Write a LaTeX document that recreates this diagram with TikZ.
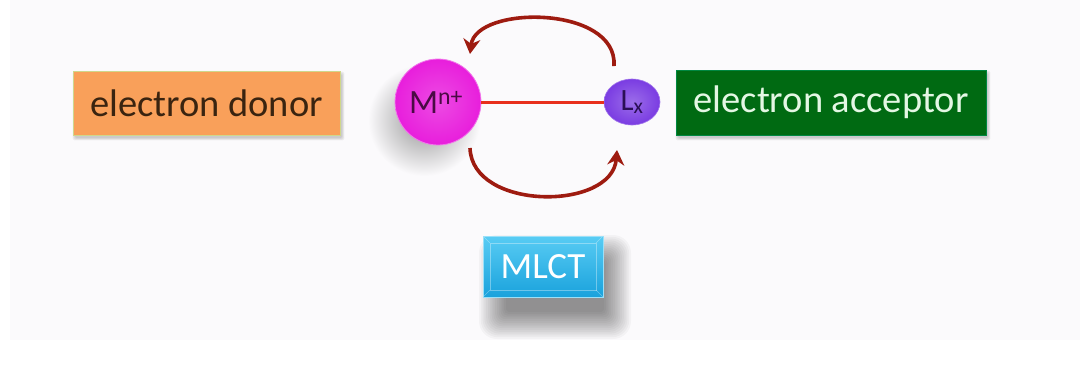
\documentclass[tikz,border=0pt]{standalone}
\usepackage{fontspec}
\setmainfont{Carlito}
\usetikzlibrary{arrows.meta,shapes.geometric}
\definecolor{pagebg}{HTML}{FBFAFC}
\definecolor{donorfill}{HTML}{F9A05A}
\definecolor{donortext}{HTML}{3A2410}
\definecolor{accfill}{HTML}{006A12}
\definecolor{acctext}{HTML}{E4F7E4}
\definecolor{mfill}{HTML}{E81EDC}
\definecolor{mtext}{HTML}{4A0A44}
\definecolor{lfill}{HTML}{7A3CE2}
\definecolor{ltext}{HTML}{2A0F55}
\definecolor{bondred}{HTML}{E8301C}
\definecolor{arcred}{HTML}{9E1B10}
\definecolor{mlcttop}{HTML}{58CCF4}
\definecolor{mlctbot}{HTML}{1AA2DC}
\tikzset{
  labelbox/.style={rectangle, inner sep=0pt, font=\fontsize{38.5}{38.5}\selectfont},
  ion/.style={circle, inner sep=0pt, font=\fontsize{34}{34}\selectfont},
  transfer/.style={line width=3.6pt, draw=arcred, -{Stealth[length=15pt,width=17pt]}},
}
\begin{document}
\begin{tikzpicture}[x=1pt,y=-1pt]
\useasboundingbox (0,0) rectangle (1086,365);
\fill[white] (0,0) rectangle (1086,365);
\fill[pagebg] (10,0) rectangle (1080,340);

% soft shadows
\foreach \i in {0,...,4}
  \fill[black, fill opacity=0.04, rounded corners=2pt]
    (75-\i*0.6,74-\i*0.6) rectangle (342+\i*0.6,138+\i*0.6);
\foreach \i in {0,...,4}
  \fill[black, fill opacity=0.04, rounded corners=2pt]
    (678-\i*0.6,73-\i*0.6) rectangle (988+\i*0.6,138+\i*0.6);
\shade[inner color=black!42, outer color=pagebg] (424,120) circle (56pt);
\foreach \i in {0,...,15}
  \fill[black, fill opacity=0.03, rounded corners=\i pt+3pt]
    (506-\i*1.8,262-\i*1.8) rectangle (604+\i*1.8,312+\i*1.8);

\node[labelbox, fill=donorfill, draw=donorfill!70!green!60!white, line width=0.6pt,
  minimum width=267pt, minimum height=64pt, text=donortext] (donor) at (206.5,103) {electron donor};
\node[labelbox, fill=accfill, draw=accfill!80!cyan, line width=0.6pt,
  minimum width=310pt, minimum height=65pt, text=acctext] (acceptor) at (831,102.5) {electron acceptor};

\node[ion, minimum size=86pt, inner color=mfill!80!white, outer color=mfill, draw=mfill!60!white, line width=0.8pt,
  text=mtext] (metal) at (438,102) {M\textsuperscript{n+}\kern4pt};
\node[ellipse, inner sep=0pt, minimum width=56pt, minimum height=46pt,
  inner color=lfill!75!white, outer color=lfill, draw=lfill!70!white, line width=0.6pt,
  text=ltext, font=\fontsize{31}{31}\selectfont] (ligand) at (632,102) {L\textsubscript{x}};

\draw[bondred, line width=3pt] (metal.east) -- (ligand.west);

\coordinate (upstart) at (614,66);
\coordinate (upend) at (470,54);
\coordinate (lowstart) at (470,148);
\coordinate (lowend) at (617,150);
\draw[transfer] (upstart) .. controls (618,5) and (476,5) .. (upend);
\draw[transfer] (lowstart) .. controls (472,211) and (612,211) .. (lowend);

\node[rectangle, inner sep=0pt, minimum width=120pt, minimum height=61pt,
  top color=mlcttop, bottom color=mlctbot, draw=mlcttop!60!white, line width=0.8pt,
  text=white, font=\fontsize{37}{37}\selectfont,
  path picture={
    \draw[white, opacity=0.35, line width=0.6pt]
      ([xshift=7pt,yshift=-7pt]path picture bounding box.north west) rectangle
      ([xshift=-7pt,yshift=7pt]path picture bounding box.south east);
    \foreach \a/\b in {north west/{7pt,-7pt}, north east/{-7pt,-7pt}, south west/{7pt,7pt}, south east/{-7pt,7pt}}
      \draw[white, opacity=0.35, line width=0.6pt] (path picture bounding box.\a) -- ++(\b);
  }]
  (mlct) at (543,266.5) {MLCT};
\end{tikzpicture}
\end{document}
